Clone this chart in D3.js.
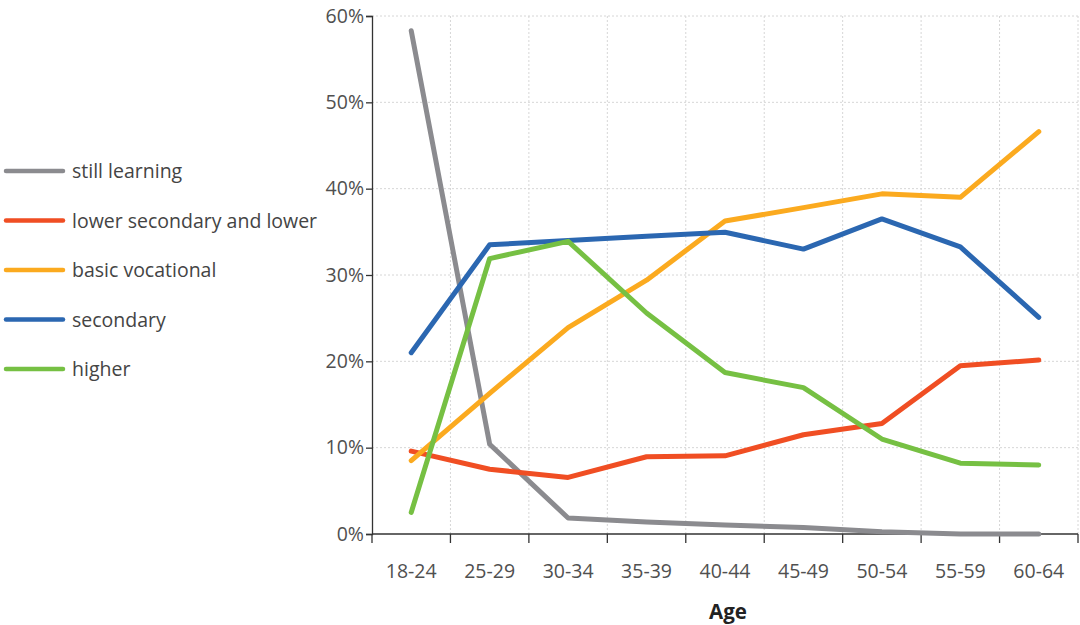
<!DOCTYPE html>
<html>
<head>
<meta charset="utf-8">
<script src="https://cdn.jsdelivr.net/npm/d3@7"></script>
<style>
  html, body { margin: 0; padding: 0; background: #fff; }
  svg { display: block; font-family: "Open Sans", "Noto Sans", sans-serif; }
</style>
</head>
<body>
<svg id="chart" width="1080" height="625"></svg>
<script>
// Age groups on the x axis
const ageGroups = ["18-24", "25-29", "30-34", "35-39", "40-44", "45-49", "50-54", "55-59", "60-64"];

// Share of each education level per age group (%)
const stillLearning   = [58.3, 10.4, 1.85, 1.4, 1.05, 0.75, 0.25, 0.0, 0.0];
const lowerSecondary  = [9.6, 7.5, 6.55, 8.95, 9.05, 11.5, 12.8, 19.5, 20.15];
const basicVocational = [8.5, 16.3, 23.9, 29.4, 36.25, 37.8, 39.4, 39.0, 46.6];
const secondary       = [21.0, 33.5, 34.0, 34.5, 34.95, 33.0, 36.5, 33.25, 25.1];
const higher          = [2.5, 31.9, 33.9, 25.6, 18.7, 16.95, 11.0, 8.2, 8.0];

const seriesNames = ["still learning", "lower secondary and lower", "basic vocational", "secondary", "higher"];
const seriesValues = [stillLearning, lowerSecondary, basicVocational, secondary, higher];
const seriesColors = ["#8b8b8f", "#f04e23", "#fbaa1f", "#2b67b1", "#76c043"];

const yTicks = [0, 10, 20, 30, 40, 50, 60];

const svg = d3.select("#chart");
const margin = { left: 372, right: 1078, top: 16, bottom: 534 };

const x = d3.scaleBand().domain(ageGroups).range([margin.left, margin.right]);
const y = d3.scaleLinear().domain([0, 60]).range([margin.bottom, margin.top]);

// Dashed grid
const grid = svg.append("g").attr("stroke", "#d6d6d6").attr("stroke-dasharray", "2,2").attr("stroke-width", 1);
grid.selectAll("line.h").data(yTicks.filter(d => d > 0)).join("line")
  .attr("x1", margin.left).attr("x2", margin.right)
  .attr("y1", d => y(d)).attr("y2", d => y(d));
const xBounds = ageGroups.map(a => x(a) + x.bandwidth());
grid.selectAll("line.v").data(xBounds).join("line")
  .attr("x1", d => d).attr("x2", d => d)
  .attr("y1", margin.top).attr("y2", margin.bottom);

// Y axis
const yAxis = svg.append("g")
  .attr("transform", `translate(${margin.left},0)`)
  .call(d3.axisLeft(y).tickValues(yTicks).tickFormat(d => d + "%").tickSize(6).tickPadding(2));
yAxis.select(".domain").attr("stroke", "#333").attr("stroke-width", 1.3);
yAxis.selectAll(".tick line").attr("stroke", "#333").attr("stroke-width", 1.3);
yAxis.selectAll(".tick text").attr("fill", "#505050").attr("font-size", 19.5).attr("font-family", "'Open Sans', sans-serif");

// X axis with ticks at band edges
const xAxisG = svg.append("g").attr("transform", `translate(0,${margin.bottom})`);
xAxisG.append("line").attr("x1", margin.left).attr("x2", margin.right)
  .attr("stroke", "#333").attr("stroke-width", 1.3);
xAxisG.selectAll("line.tick").data([margin.left, ...xBounds]).join("line")
  .attr("x1", d => d).attr("x2", d => d).attr("y1", 0).attr("y2", 9)
  .attr("stroke", "#333").attr("stroke-width", 1.3);
xAxisG.selectAll("text").data(ageGroups).join("text")
  .attr("x", d => x(d) + x.bandwidth() / 2).attr("y", 44)
  .attr("text-anchor", "middle").attr("fill", "#505050").attr("font-size", 19.5)
  .text(d => d);

svg.append("text").attr("x", 728).attr("y", 619).attr("text-anchor", "middle")
  .attr("font-weight", "bold").attr("font-size", 20.5).attr("fill", "#222").text("Age");

// Series lines
const line = d3.line().x((d, i) => x(ageGroups[i]) + x.bandwidth() / 2).y(d => y(d));
svg.append("g").selectAll("path").data(seriesValues).join("path")
  .attr("d", d => line(d)).attr("fill", "none")
  .attr("stroke", (d, i) => seriesColors[i]).attr("stroke-width", 5)
  .attr("stroke-linecap", "round").attr("stroke-linejoin", "round");

// Legend
const legend = svg.append("g").selectAll("g").data(seriesNames).join("g")
  .attr("transform", (d, i) => `translate(0,${171 + i * 49.5})`);
legend.append("line").attr("x1", 6).attr("x2", 63)
  .attr("stroke", (d, i) => seriesColors[i]).attr("stroke-width", 4.5).attr("stroke-linecap", "round");
legend.append("text").attr("x", 72).attr("y", 7).attr("font-size", 19.5).attr("fill", "#444")
  .text(d => d);
</script>
</body>
</html>
